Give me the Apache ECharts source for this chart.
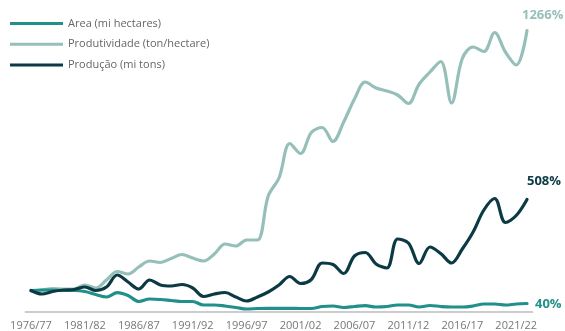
<!DOCTYPE html>
<html>
<head>
<meta charset="utf-8">
<script src="https://cdn.jsdelivr.net/npm/echarts@6/dist/echarts.min.js"></script>
<style>html,body{margin:0;padding:0;background:#fff;}#c{width:565px;height:331px;}</style>
</head>
<body>
<div id="c"></div>
<script>
// Categories (crop years)
var categories = ['1976/77','1977/78','1978/79','1979/80','1980/81','1981/82','1982/83','1983/84','1984/85','1985/86',
  '1986/87','1987/88','1988/89','1989/90','1990/91','1991/92','1992/93','1993/94','1994/95','1995/96',
  '1996/97','1997/98','1998/99','1999/00','2000/01','2001/02','2002/03','2003/04','2004/05','2005/06',
  '2006/07','2007/08','2008/09','2009/10','2010/11','2011/12','2012/13','2013/14','2014/15','2015/16',
  '2016/17','2017/18','2018/19','2019/20','2020/21','2021/22','2022/23'];

// Relative heights (no visible y axis)
var area = [21.5,22,22,21.5,21.5,20.5,17.5,15,19.3,16.5,10.5,13,12.5,11.5,10.5,10.5,7,7,6,4.5,3,3.5,3.7,3.7,3.7,3.5,3.5,5.5,6,4.5,5.5,6.3,5,5.5,7,7,5,6.5,5.5,5,5,6,8,8,7,8,8.5];
var produtividade = [21,22,23.5,23,23,27,24,32,40.5,38,45,51,49.5,53.5,57.5,54,51,58,68,66,72,72,116,134,168.5,158.5,179.5,184.5,170.5,190,213,230,224,221,217,208.5,228,240,250.5,209,253.5,265,260.5,279.5,260,247,281.5];
var producao = [21.5,18,20.5,22,22.5,25,21.5,25,37,30,23,32,27,26,27.5,24,15.5,18,19.5,15,11,15,20,27,35.5,28.5,32.5,49,47.5,38.5,56,59.5,48,44,73,69,48.5,65,58.5,49,63,80,102,113.5,89.5,96.5,112.5];

var seriesNames = ['Area (mi hectares)','Produtividade (ton/hectare)','Produção (mi tons)'];
var endTexts = ['40%','1266%','508%'];

var cTeal = '#21908b', cLight = '#97bfb9', cDark = '#0b3a44';
var font = 'Open Sans';

var chart = echarts.init(document.getElementById('c'), null, {renderer:'canvas'});
function mk(name, data, color, text, offset, z){
  return {
    name: name, type: 'line', data: data, smooth: 0.35, symbol: 'none', z: z,
    lineStyle: {color: color, width: 3.2, cap: 'round'},
    itemStyle: {color: color},
    endLabel: {show: true, formatter: text, color: color, fontFamily: font, fontWeight: 'bold', fontSize: 13, distance: 5, offset: offset}
  };
}
chart.setOption({
  animation: false,
  textStyle: {fontFamily: font},
  legend: {
    data: seriesNames, orient: 'vertical', left: 5, top: 11.5,
    icon: 'rect', itemWidth: 53, itemHeight: 3, itemGap: 6.7,
    textStyle: {color: '#666', fontSize: 11, fontFamily: font, lineHeight: 14}
  },
  grid: {left: 25.6, right: 32.6, top: 12, bottom: 19, containLabel: false},
  xAxis: {
    type: 'category', data: categories, boundaryGap: true,
    axisLine: {lineStyle: {color: '#cccccc', width: 2}},
    axisTick: {show: false},
    axisLabel: {interval: 4, color: '#777', fontSize: 11, margin: 8, fontFamily: font}
  },
  yAxis: {type: 'value', min: 0, max: 300, show: false, splitLine: {show: false}},
  series: [
    mk(seriesNames[1], produtividade, cLight, endTexts[1], [-10, -15.5], 2),
    mk(seriesNames[0], area, cTeal, endTexts[0], [3, 1], 3),
    mk(seriesNames[2], producao, cDark, endTexts[2], [-5, -18], 4)
  ]
});
</script>
</body>
</html>
